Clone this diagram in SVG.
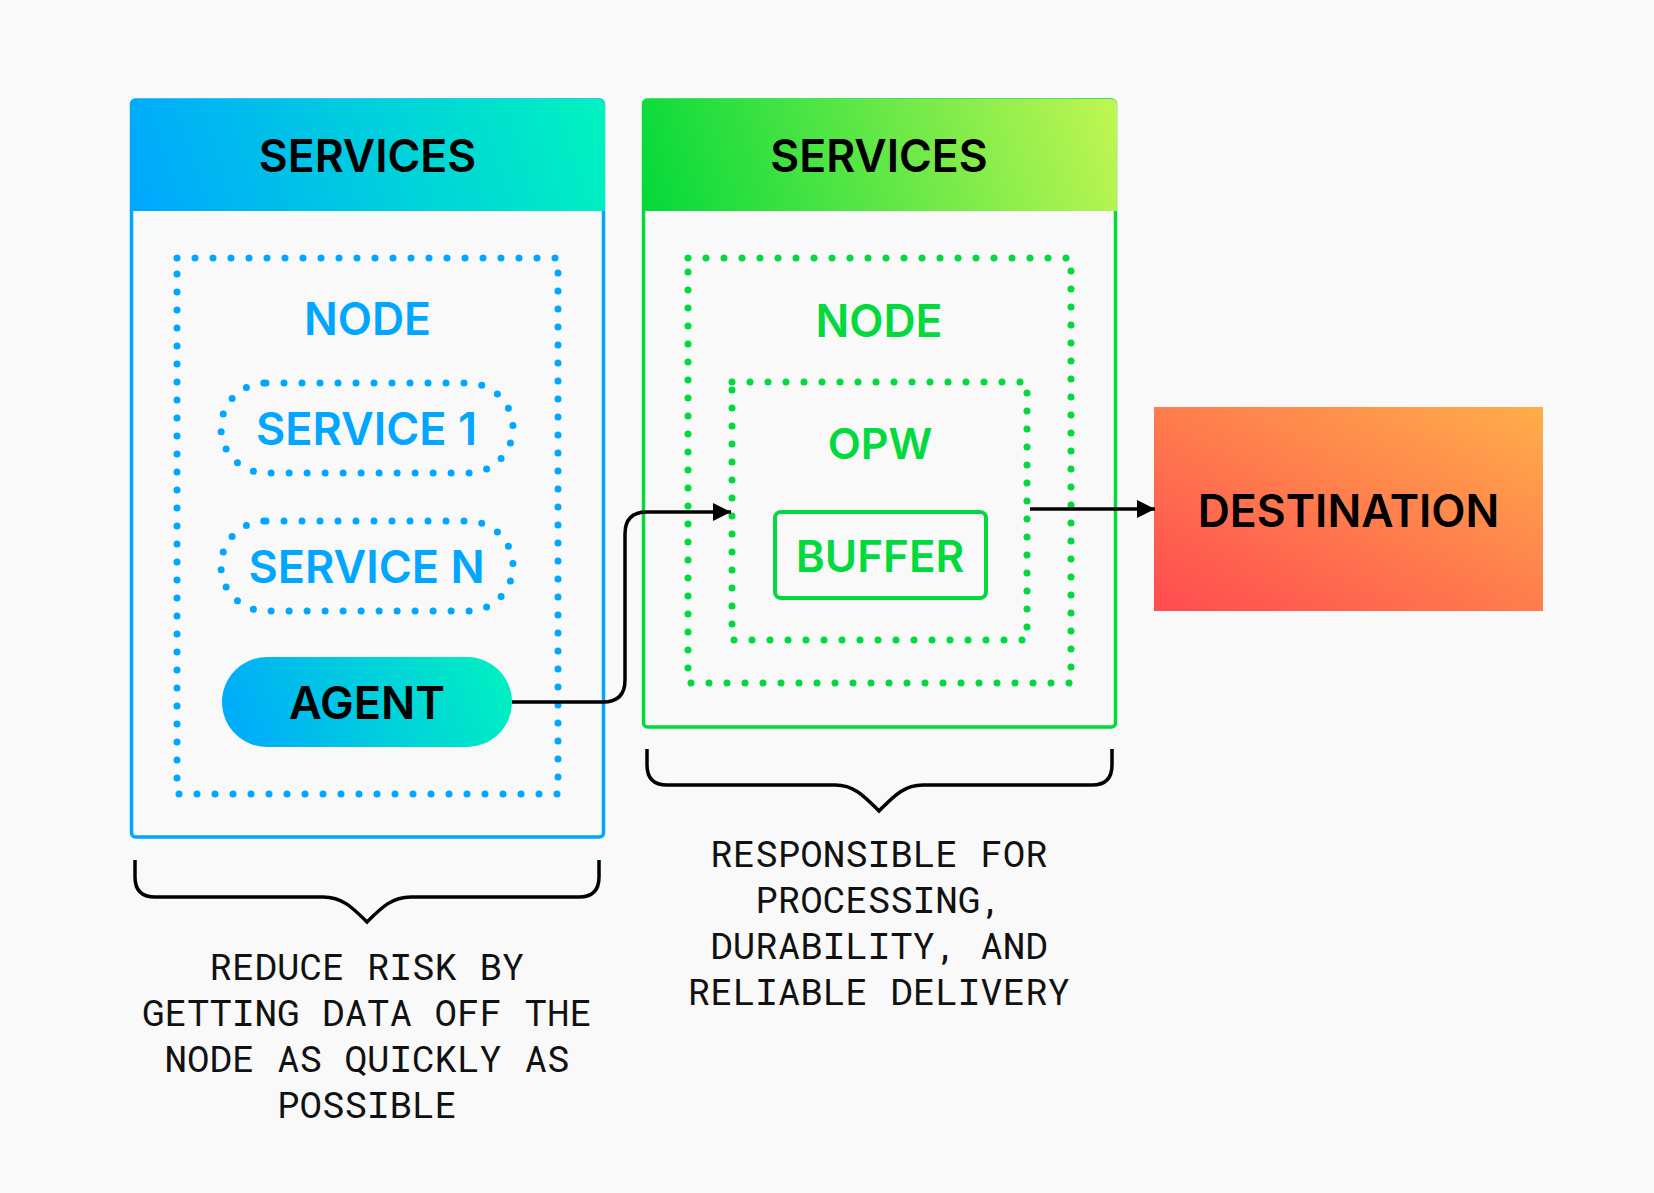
<svg xmlns="http://www.w3.org/2000/svg" width="1654" height="1193" viewBox="0 0 1654 1193">
<style>
.lbl{font-family:Inter,Roboto,"Liberation Sans",sans-serif;font-weight:600;text-anchor:middle}
.blk{fill:#000}
.blue{fill:#00A6FF}
.green{fill:#00DA3C}
.dotb{fill:none;stroke:#00A6FF;stroke-width:7;stroke-linecap:round;stroke-dasharray:0 18}
.dotg{fill:none;stroke:#00DA3C;stroke-width:7;stroke-linecap:round;stroke-dasharray:0 18}
.note{font-family:"Roboto Mono","DejaVu Sans Mono","Liberation Mono",monospace;font-size:37.5px;fill:#111;text-anchor:middle}
.conn{fill:none;stroke:#000;stroke-width:3.5}
</style>
<defs>
<linearGradient id="gBlueH" gradientUnits="userSpaceOnUse" x1="130" y1="230" x2="605" y2="80">
<stop offset="0" stop-color="#00A6FF"/><stop offset="1" stop-color="#00F4BE"/>
</linearGradient>
<linearGradient id="gGreenH" gradientUnits="userSpaceOnUse" x1="642" y1="230" x2="1117" y2="80">
<stop offset="0" stop-color="#00D93A"/><stop offset="1" stop-color="#C4F653"/>
</linearGradient>
<linearGradient id="gAgent" gradientUnits="userSpaceOnUse" x1="222" y1="760" x2="512" y2="645">
<stop offset="0" stop-color="#00A6FF"/><stop offset="1" stop-color="#00F4BE"/>
</linearGradient>
<linearGradient id="gDest" x1="0" y1="1" x2="1" y2="0">
<stop offset="0" stop-color="#FF4B50"/><stop offset="1" stop-color="#FFAE4A"/>
</linearGradient>
<marker id="arr" viewBox="0 0 10 10" refX="10" refY="5" markerWidth="18" markerHeight="19" markerUnits="userSpaceOnUse" orient="auto">
<path d="M0 0 L10 5 L0 10 Z" fill="#000"/>
</marker>
</defs>
<rect width="1654" height="1193" fill="#F9F9F9"/>

<g id="panel-left">
<rect x="131.5" y="100" width="472" height="737" rx="4" fill="#F9F9F9" stroke="#00A6FF" stroke-width="3.5"/>
<path d="M130 211 V105 Q130 99 136 99 H599 Q605 99 605 105 V211 Z" fill="url(#gBlueH)"/>
<text class="lbl blk" x="367.5" y="172" font-size="44.5">SERVICES</text>
</g>
<g id="node-left">
<rect class="dotb" x="177" y="258" width="381" height="536"/>
<text class="lbl blue" x="367.5" y="335" font-size="44.5">NODE</text>
</g>
<g id="service-1">
<rect class="dotb" x="221" y="383" width="292" height="90" rx="45"/>
<text class="lbl blue" x="366.5" y="445" font-size="45">SERVICE 1</text>
</g>
<g id="service-n">
<rect class="dotb" x="221" y="521" width="292" height="90" rx="45"/>
<text class="lbl blue" x="366.5" y="583" font-size="45">SERVICE N</text>
</g>
<g id="agent">
<rect x="222" y="657" width="290" height="90" rx="45" fill="url(#gAgent)"/>
<text class="lbl blk" x="367" y="719" font-size="45">AGENT</text>
</g>

<g id="panel-right">
<rect x="643.5" y="100" width="472" height="627" rx="4" fill="#F9F9F9" stroke="#00DA3C" stroke-width="3.5"/>
<path d="M642 211 V105 Q642 99 648 99 H1111 Q1117 99 1117 105 V211 Z" fill="url(#gGreenH)"/>
<text class="lbl blk" x="879" y="172" font-size="44.5">SERVICES</text>
</g>
<g id="node-right">
<rect class="dotg" x="688" y="258" width="383" height="425"/>
<text class="lbl green" x="879" y="337" font-size="44.5">NODE</text>
</g>
<g id="opw">
<rect class="dotg" x="732" y="382" width="295" height="258"/>
<text class="lbl green" x="880" y="459" font-size="43">OPW</text>
</g>
<g id="buffer">
<rect x="775" y="512" width="211" height="86" rx="6" fill="none" stroke="#00DA3C" stroke-width="4"/>
<text class="lbl green" x="880" y="572" font-size="44">BUFFER</text>
</g>
<g id="destination">
<rect x="1154" y="407" width="389" height="204" fill="url(#gDest)"/>
<text class="lbl blk" x="1348.5" y="527" font-size="44.5">DESTINATION</text>
</g>

<g id="connectors">
<path class="conn" d="M512 702 H603 Q625 702 625 680 V534 Q625 512 647 512 H731" marker-end="url(#arr)"/>
<path class="conn" d="M1030 509 H1155" marker-end="url(#arr)"/>
</g>

<g id="braces">
<path class="conn" d="M135 860 V877 Q135 897 155 897 H323 C342 897 352 907 367 922 C382 907 392 897 411 897 H579 Q599 897 599 877 V860"/>
<path class="conn" d="M647 749 V765 Q647 785 667 785 H835 C854 785 864 796 879 811 C894 796 904 785 923 785 H1092 Q1112 785 1112 765 V749"/>
</g>

<g id="note-left">
<text class="note" x="367" y="980">REDUCE RISK BY</text>
<text class="note" x="367" y="1026">GETTING DATA OFF THE</text>
<text class="note" x="367" y="1072">NODE AS QUICKLY AS</text>
<text class="note" x="367" y="1118">POSSIBLE</text>
</g>
<g id="note-right">
<text class="note" x="879" y="867">RESPONSIBLE FOR</text>
<text class="note" x="879" y="913">PROCESSING,</text>
<text class="note" x="879" y="959">DURABILITY, AND</text>
<text class="note" x="879" y="1005">RELIABLE DELIVERY</text>
</g>
</svg>
